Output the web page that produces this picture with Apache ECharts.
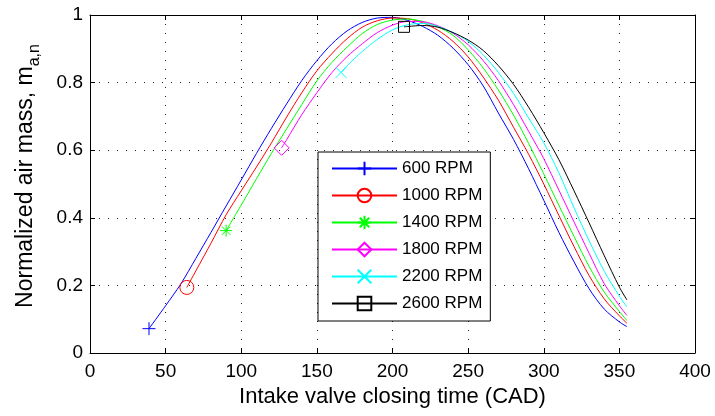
<!DOCTYPE html>
<html><head><meta charset="utf-8">
<script src="https://cdn.jsdelivr.net/npm/echarts@6/dist/echarts.min.js"></script>
<style>html,body{margin:0;padding:0;background:#fff}#c{width:715px;height:416px}</style>
</head><body><div id="c"></div>
<script>
const seriesNames = ['600 RPM', '1000 RPM', '1400 RPM', '1800 RPM', '2200 RPM', '2600 RPM'];
const xTicks = [0, 50, 100, 150, 200, 250, 300, 350, 400];
const yTicks = [0, 0.2, 0.4, 0.6, 0.8, 1];

const x600 = [39, 50, 60, 70, 80, 90, 100, 110, 120, 130, 140, 150, 160, 170, 180, 190, 200, 210, 220, 230, 240, 250, 260, 270, 280, 290, 300, 310, 320, 330, 340, 350, 355];
const y600 = [0.072, 0.14, 0.204, 0.28, 0.357, 0.435, 0.512, 0.59, 0.665, 0.737, 0.806, 0.865, 0.915, 0.953, 0.978, 0.991, 0.993, 0.984, 0.966, 0.94, 0.902, 0.853, 0.79, 0.71, 0.632, 0.545, 0.452, 0.357, 0.27, 0.19, 0.13, 0.092, 0.078];

const x1000 = [64, 70, 80, 90, 100, 110, 120, 130, 140, 150, 160, 170, 180, 190, 200, 210, 220, 230, 240, 250, 260, 270, 280, 290, 300, 310, 320, 330, 340, 350, 355];
const y1000 = [0.194, 0.243, 0.325, 0.409, 0.48, 0.55, 0.622, 0.698, 0.77, 0.835, 0.886, 0.93, 0.964, 0.983, 0.991, 0.989, 0.977, 0.955, 0.922, 0.876, 0.816, 0.748, 0.668, 0.588, 0.5, 0.407, 0.315, 0.229, 0.16, 0.11, 0.088];

const x1400 = [90, 100, 110, 120, 130, 140, 150, 160, 170, 180, 190, 200, 210, 220, 230, 240, 250, 260, 270, 280, 290, 300, 310, 320, 330, 340, 350, 355];
const y1400 = [0.362, 0.438, 0.515, 0.591, 0.663, 0.735, 0.805, 0.86, 0.905, 0.945, 0.972, 0.985, 0.988, 0.981, 0.965, 0.94, 0.897, 0.843, 0.778, 0.704, 0.62, 0.53, 0.437, 0.345, 0.256, 0.18, 0.123, 0.096];

const x1800 = [126.7, 130, 140, 150, 160, 170, 180, 190, 200, 210, 220, 230, 240, 250, 260, 270, 280, 290, 300, 310, 320, 330, 340, 350, 355];
const y1800 = [0.607, 0.631, 0.705, 0.77, 0.83, 0.877, 0.915, 0.948, 0.97, 0.981, 0.98, 0.968, 0.946, 0.912, 0.865, 0.806, 0.735, 0.656, 0.575, 0.482, 0.388, 0.295, 0.205, 0.14, 0.111];

const x2200 = [166, 170, 180, 190, 200, 210, 220, 230, 240, 250, 260, 270, 280, 290, 300, 310, 320, 330, 340, 350, 355];
const y2200 = [0.83, 0.85, 0.892, 0.928, 0.956, 0.971, 0.975, 0.966, 0.948, 0.922, 0.882, 0.83, 0.768, 0.695, 0.622, 0.533, 0.43, 0.332, 0.242, 0.168, 0.136];

const x2600 = [207.6, 210, 220, 230, 240, 250, 260, 270, 280, 290, 300, 310, 320, 330, 340, 350, 355];
const y2600 = [0.965, 0.966, 0.969, 0.964, 0.948, 0.926, 0.895, 0.85, 0.795, 0.727, 0.652, 0.572, 0.48, 0.385, 0.288, 0.195, 0.157];

const xs = [x600, x1000, x1400, x1800, x2200, x2600];
const ys = [y600, y1000, y1400, y1800, y2200, y2600];
const colors = ['#0000ff', '#ff0000', '#00ff00', '#ff00ff', '#00ffff', '#000000'];
const symbols = [
  'path://M5,0L5,10M0,5L10,5',
  'circle',
  'path://M5,0L5,10M0,5L10,5M1.5,1.5L8.5,8.5M8.5,1.5L1.5,8.5',
  'diamond',
  'path://M0,0L10,10M10,0L0,10',
  'rect'
];
const symSizes = [13, 14, 12, 15, 11, 11];

const FONT = '"Liberation Sans", Arial, Helvetica, sans-serif';

const series = seriesNames.map((name, k) => ({
  type: 'line',
  name: name,
  smooth: 0.3,
  symbol: symbols[k],
  symbolSize: symSizes[k],
  showSymbol: true,
  showAllSymbol: true,
  animation: false,
  silent: true,
  lineStyle: { color: colors[k], width: 1 },
  itemStyle: { color: 'rgba(0,0,0,0)', borderColor: colors[k], borderWidth: 1 },
  emphasis: { disabled: true },
  data: xs[k].map((x, i) => i === 0 ? { value: [x, ys[k][i]] } : { value: [x, ys[k][i]], symbol: 'none' })
}));

const chart = echarts.init(document.getElementById('c'), null, { renderer: 'canvas' });
chart.setOption({
  animation: false,
  backgroundColor: '#fff',
  grid: { left: 90, right: 20, top: 15, bottom: 63, containLabel: false },
  legend: {
    orient: 'vertical',
    left: 318, top: 152,
    data: seriesNames,
    itemWidth: 65, itemHeight: 17, itemGap: 10,
    padding: [8, 8, 9, 13],
    borderColor: '#000', borderWidth: 1,
    backgroundColor: '#fff',
    textStyle: { fontFamily: FONT, fontSize: 17, color: '#000' },
    selectedMode: false
  },
  xAxis: [{
    type: 'value', min: xTicks[0], max: xTicks[xTicks.length - 1], interval: 50,
    position: 'bottom',
    axisLine: { show: true, lineStyle: { color: '#000', width: 1 } },
    axisTick: { show: true, inside: true, length: 5, lineStyle: { color: '#000' } },
    axisLabel: { fontFamily: FONT, fontSize: 19, color: '#000', margin: 9 },
    splitLine: { show: true, lineStyle: { color: '#222', type: [1, 8], width: 1 } },
    name: 'Intake valve closing time (CAD)',
    nameLocation: 'middle', nameGap: 30,
    nameTextStyle: { fontFamily: FONT, fontSize: 22, color: '#000' }
  }, {
    type: 'value', min: xTicks[0], max: xTicks[xTicks.length - 1], interval: 50,
    position: 'top',
    axisLine: { show: true, onZero: false, lineStyle: { color: '#000', width: 1 } },
    axisTick: { show: true, inside: true, length: 5, lineStyle: { color: '#000' } },
    axisLabel: { show: false },
    splitLine: { show: false }
  }],
  yAxis: [{
    type: 'value', min: yTicks[0], max: yTicks[yTicks.length - 1], interval: 0.2,
    position: 'left',
    axisLine: { show: true, lineStyle: { color: '#000', width: 1 } },
    axisTick: { show: true, inside: true, length: 5, lineStyle: { color: '#000' } },
    axisLabel: { fontFamily: FONT, fontSize: 19, color: '#000', margin: 7,
      formatter: v => String(Math.round(v * 10) / 10) },
    splitLine: { show: true, lineStyle: { color: '#222', type: [1, 8], width: 1 } },
    name: '{t|Normalized air mass, m}{s|a,n}',
    nameLocation: 'middle', nameGap: 53,
    nameTextStyle: {
      fontFamily: FONT, color: '#000', padding: [0, 0, 0, 16],
      rich: {
        t: { fontFamily: FONT, fontSize: 23, color: '#000', lineHeight: 23, verticalAlign: 'top' },
        s: { fontFamily: FONT, fontSize: 16, color: '#000', lineHeight: 16, verticalAlign: 'top', padding: [13, 0, 0, 0] }
      }
    }
  }, {
    type: 'value', min: yTicks[0], max: yTicks[yTicks.length - 1], interval: 0.2,
    position: 'right',
    axisLine: { show: true, onZero: false, lineStyle: { color: '#000', width: 1 } },
    axisTick: { show: true, inside: true, length: 5, lineStyle: { color: '#000' } },
    axisLabel: { show: false },
    splitLine: { show: false }
  }],
  series: series
});
</script>
</body></html>
